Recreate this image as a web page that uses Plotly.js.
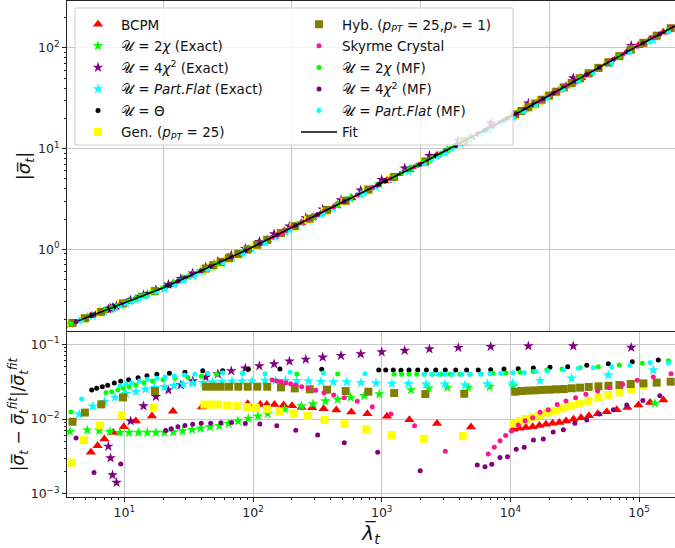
<!DOCTYPE html>
<html><head><meta charset="utf-8">
<script src="https://cdn.plot.ly/plotly-3.0.1.min.js"></script>
<style>html,body{margin:0;padding:0;background:#fff;}#chart{width:675px;height:548px;}</style>
</head><body><div id="chart"></div>
<script>
// ---------- data ----------
const lam_fit = [4.4, 20.6, 91.8, 374, 2046, 12600, 90200, 184600, 200000];
const sig_fit = [0.195, 0.42, 1.0, 2.46, 7.15, 24.2, 99, 162, 171];

const lam_bcpm = [5.5,6.2,7.0,8.2,9.9,12.3,16.4,23.9,40.2,91,114,128,147,173,201,238,288,354,444,581,774,1100,1640,2690,4940,10550,11700,13200,14900,16800,18900,21300,24000,27100,30900,35400,40800,47700,56100,67000,81100,98800,121700,154500];
const sig_bcpm = [0.2185,0.232,0.246,0.266,0.292,0.325,0.375,0.457,0.619,0.995,1.148,1.236,1.349,1.5,1.649,1.839,2.075,2.368,2.732,3.236,3.88,4.83,6.22,8.585,12.9,21.43,22.96,24.97,27.21,29.65,32.27,35.16,38.3,41.8,45.9,50.67,56.1,62.8,70.5,80.1,91.8,105.6,121.7,143.5];
const res_bcpm = [0.0036,0.0044,0.0054,0.0066,0.0079,0.0094,0.011,0.0127,0.0145,0.016,0.0157,0.0157,0.0157,0.0154,0.0151,0.0143,0.0142,0.0137,0.0132,0.0124,0.0118,0.0109,0.0098,0.0087,0.0078,0.0073,0.0075,0.0077,0.0079,0.0082,0.0085,0.0088,0.009,0.0094,0.0099,0.0104,0.0111,0.0118,0.0125,0.0133,0.0143,0.0154,0.0167,0.018];

const lam_x2ex = [3.79,5.15,6.39,7.74,9.25,10.9,12.9,15.1,17.6,20.5,24.0,28.4,33.6,39.2,46.3,54.7,64.7,76.4,92,109,130,176,238,293,365,455,574,733,960,1690,2320,3240,4690,6900,10550,133000];
const sig_x2ex = [0.1815,0.2114,0.2353,0.2587,0.2825,0.3069,0.3332,0.36,0.3886,0.4184,0.4591,0.5055,0.5574,0.6097,0.6722,0.7401,0.8164,0.8987,1.0,1.118,1.249,1.516,1.839,2.096,2.414,2.777,3.214,3.747,4.439,6.339,7.768,9.712,12.45,16.13,21.43,129.5];
const res_x2ex = [0.0068,0.0071,0.007,0.0068,0.0066,0.0066,0.0066,0.0066,0.0066,0.0066,0.0067,0.0069,0.0072,0.0075,0.0078,0.0081,0.0087,0.0094,0.0101,0.0109,0.0118,0.0136,0.0149,0.0159,0.0174,0.0183,0.0195,0.0205,0.0216,0.0245,0.0258,0.0265,0.0265,0.027,0.0277,0.0162];

const lam_x4ex = [7.52,7.82,8.1,8.7,11.2,14.1,17.6,22.0,27.5,34.0,42.9,53.4,67.8,87.1,112,146,192,257,348,483,687,1000,1510,2350,3940,7030,13800,30800,86900];
const sig_x4ex = [0.2548,0.2599,0.2643,0.2738,0.3137,0.3527,0.3963,0.4465,0.5102,0.5793,0.6657,0.7594,0.8753,1.0163,1.193,1.422,1.693,2.052,2.501,3.086,3.863,4.916,6.394,8.516,12.07,17.85,28.16,50.24,105.3];
const res_x4ex = [0.0043,0.003,0.00178,0.00141,0.0094,0.0149,0.0199,0.0244,0.0285,0.0323,0.0362,0.04,0.044,0.0478,0.0513,0.0545,0.0592,0.0629,0.067,0.0704,0.0741,0.0788,0.0826,0.0865,0.0901,0.093,0.095,0.095,0.0906];

const lam_pfex = [4.45,5.68,7.0,8.47,10.3,12.3,14.6,17.2,20.5,24.3,28.7,34.0,41.1,48.6,57.4,68.7,82.2,98.2,124,150,179,219,269,337,421,535,690,903,1200,1610,2210,3100,4440,6620,10400,17000,29900,57700,129000];
const sig_pfex = [0.1943,0.2185,0.2418,0.2651,0.2908,0.3175,0.3447,0.3742,0.4071,0.4493,0.4941,0.5444,0.6076,0.67,0.7367,0.8182,0.908,1.01,1.171,1.323,1.484,1.684,1.924,2.223,2.561,2.978,3.497,4.147,4.947,5.966,7.299,9.171,11.66,15.23,20.53,28.91,43.33,69.1,120.9];
const res_pfex = [0.0116,0.0148,0.0171,0.0195,0.0218,0.0232,0.025,0.0262,0.027,0.0279,0.0292,0.0301,0.0306,0.0313,0.0316,0.032,0.032,0.0323,0.0328,0.0327,0.0326,0.0326,0.0323,0.0316,0.0313,0.0313,0.0306,0.0303,0.0297,0.0297,0.0292,0.0292,0.0285,0.0294,0.0301,0.0326,0.0351,0.0388,0.0453];

const lam_theta = [5.58,6.1,6.75,7.43,8.36,9.38,10.8,12.8,15.0,17.9,22.4,29.6,40.7,58.2,92,162,342,948,1074,1231,1413,1630,1905,2223,2630,3120,3760,4570,5630,7030,8920,11500,15070,20300,27900,39200,57700,88500,141000];
const sig_theta = [0.22,0.23,0.2415,0.2535,0.2685,0.284,0.305,0.331,0.359,0.391,0.441,0.519,0.623,0.767,1.0,1.439,2.317,4.406,4.764,5.19,5.66,6.19,6.84,7.55,8.45,9.475,10.74,12.25,14.09,16.33,19.14,22.73,27.42,34.0,42.66,54.45,71.9,97.7,134.8];
const res_theta = [0.0245,0.0258,0.0271,0.0283,0.0303,0.032,0.0336,0.0357,0.038,0.0397,0.0409,0.0422,0.0443,0.0443,0.0463,0.0467,0.0463,0.0453,0.0452,0.0453,0.0451,0.0453,0.0452,0.0453,0.0452,0.0453,0.0452,0.0453,0.0453,0.0457,0.0467,0.0472,0.0482,0.0492,0.0501,0.0524,0.055,0.0585,0.0616];

const lam_gen = [3.92,4.86,6.47,9.53,16.9,41.9,46.9,53.8,63.2,74.7,89.8,105,128,160,206,267,360,513,760,1200,2130,4270,10550,11900,13200,14900,17000,19400,22300,25500,29500,34400,40400,48300,57800,70300,86700,108000];
const sig_gen = [0.1846,0.2055,0.2367,0.2866,0.3807,0.634,0.677,0.733,0.805,0.887,0.986,1.092,1.234,1.428,1.674,1.979,2.397,2.994,3.835,5.116,7.345,11.68,21.43,23.23,25.0,27.25,29.94,32.9,36.27,40.07,44.4,49.57,55.67,63.33,72.06,82.9,96.4,112.3];
const res_gen = [0.0026,0.0052,0.0082,0.0113,0.0143,0.0156,0.0156,0.0156,0.0152,0.0149,0.0145,0.0142,0.0136,0.0125,0.0119,0.011,0.0097,0.0086,0.0073,0.0061,0.00545,0.0059,0.00866,0.0094,0.01,0.0106,0.0113,0.0122,0.0129,0.0139,0.0149,0.016,0.0174,0.0193,0.021,0.0228,0.025,0.0285];

const lam_hyb = [3.96,4.94,6.62,9.77,17.3,43.2,49.2,56.1,65.1,76.9,91,108,129,165,211,276,376,525,788,1250,2185,4380,10900,12200,13800,15600,17500,20000,22700,26000,30000,34800,40600,48300,57800,70300,86100,108000,137000,176000];
const sig_hyb = [0.1857,0.207,0.2394,0.2903,0.385,0.645,0.696,0.751,0.8185,0.902,0.995,1.11,1.243,1.455,1.701,2.018,2.46,3.038,3.92,5.236,7.46,11.91,21.87,23.69,25.76,28.07,30.6,33.62,36.76,40.6,44.98,49.98,55.94,63.33,72.06,82.9,95.9,112.3,132.2,157.1];
const res_hyb = [0.0092,0.0122,0.0157,0.0195,0.0237,0.0271,0.0271,0.0271,0.0271,0.0271,0.0271,0.0271,0.0271,0.0265,0.0257,0.025,0.0247,0.0237,0.0232,0.0223,0.0216,0.0218,0.0232,0.0237,0.024,0.0242,0.0245,0.0247,0.025,0.0252,0.0258,0.0263,0.0269,0.0274,0.0279,0.0285,0.0294,0.03,0.0307,0.0316];

const lam_sky = [141,153,165,180,196,215,239,269,307,356,424,512,646,845,1180,1800,3120,6730,7500,8300,9190,10200,11500,13000,14900,17000,19700,23100,27000,32100,38600,47600,58600,74600,96800,129000,177000];
const sig_sky = [1.317,1.384,1.455,1.535,1.625,1.721,1.842,1.988,2.162,2.379,2.655,2.989,3.461,4.1,5.056,6.6,9.475,15.86,17.06,18.26,19.54,21.01,22.73,24.64,27.21,29.9,33.29,37.31,41.76,47.26,53.95,62.71,72.78,86.55,104.1,126.6,157.6];
const res_sky = [0.0333,0.0323,0.0316,0.0306,0.0297,0.0285,0.027,0.0258,0.0242,0.0225,0.0209,0.0193,0.0173,0.0146,0.0117,0.0081,0.0037,0.0034,0.0042,0.0051,0.006,0.0069,0.0083,0.0095,0.0104,0.0123,0.0133,0.0157,0.0174,0.0193,0.0214,0.0237,0.0265,0.0292,0.033,0.0365,0.0404];

const lam_x2mf = [3.85,7.21,7.98,8.89,9.82,10.9,12.3,14.2,16.6,20.0,24.8,31.1,39.7,52.2,83.2,219,455,1250,1430,1630,1870,2140,2470,2890,3400,4060,4850,5910,7280,9240,11900,15000,19200,25200,34800,48200,70100,106000,169000];
const sig_x2mf = [0.1831,0.2497,0.2625,0.277,0.2909,0.3069,0.3257,0.3495,0.3776,0.4136,0.4672,0.5333,0.6138,0.7206,0.9443,1.741,2.777,5.25,5.702,6.19,6.756,7.37,8.107,9.006,10.03,11.3,12.74,14.55,16.72,19.63,23.23,27.35,32.58,39.67,49.98,63.23,82.77,110.7,152.5];
const res_x2mf = [0.0124,0.0225,0.0232,0.0244,0.0258,0.027,0.0285,0.0306,0.0323,0.0336,0.0351,0.0362,0.0373,0.0397,0.0409,0.04,0.04,0.0397,0.0397,0.0397,0.0397,0.0397,0.0397,0.0397,0.0397,0.0397,0.0397,0.04,0.0409,0.0413,0.0422,0.0432,0.0453,0.0467,0.0486,0.0501,0.0528,0.0557,0.0603];

const lam_x4mf = [4.22,5.82,9.38,21.0,23.1,26.1,29.6,34.0,39.6,46.9,56.4,68.2,87.1,113,153,215,318,512,931,1990,5530,6350,7160,8300,9500,11100,12800,15100,18000,21500,25800,31700,39200,49100,63100,80200,107000,145000];
const sig_x4mf = [0.1915,0.2246,0.284,0.4242,0.4482,0.4817,0.519,0.5612,0.6138,0.677,0.7531,0.8416,0.9698,1.143,1.384,1.721,2.214,2.989,4.357,7.015,13.91,15.26,16.54,18.26,20.0,22.13,24.36,27.42,31.2,35.45,40.33,46.88,54.45,64.07,76.74,91.1,111.2,137.5];
const res_x4mf = [0.00557,0.00193,0.0025,0.007,0.0074,0.0079,0.0082,0.0085,0.0088,0.0088,0.0089,0.009,0.0087,0.0086,0.0081,0.0071,0.0061,0.0048,0.0036,0.00203,0.00242,0.0023,0.00248,0.00306,0.00313,0.00393,0.00418,0.00523,0.0054,0.0067,0.0072,0.0088,0.0097,0.0117,0.0133,0.0154,0.0177,0.0205];

const lam_pfmf = [4.67,9.27,10.3,11.4,13.1,15.1,17.9,20.7,24.5,29.3,35.4,44.5,58.2,83.2,124,194,352,741,2140,2440,2750,3100,3540,4190,4850,5870,6950,8410,10500,12800,15800,19500,25800,33700,44100,61200,84900,122000,169000];
const sig_pfmf = [0.1975,0.2749,0.2886,0.3039,0.3247,0.3478,0.3773,0.4057,0.4465,0.4942,0.5517,0.6295,0.7348,0.9057,1.163,1.545,2.261,3.623,7.075,7.724,8.369,9.069,9.9,11.08,12.23,13.91,15.56,17.67,20.53,23.34,27.19,31.56,38.52,46.58,56.39,71.33,90.0,114.8,144.0];
const res_pfmf = [0.0185,0.0279,0.0294,0.0306,0.0323,0.034,0.0351,0.0365,0.0376,0.0388,0.0397,0.0409,0.0417,0.0409,0.0404,0.0422,0.0413,0.0404,0.0397,0.0397,0.0397,0.0397,0.0397,0.0397,0.0397,0.0397,0.0404,0.0409,0.0417,0.0417,0.0432,0.044,0.0453,0.0477,0.0486,0.0501,0.0523,0.057,0.0562];

// tick labels
const xTickVals = [10, 100, 1000, 10000, 100000];
const xTickText = ['10<sup>1</sup>','10<sup>2</sup>','10<sup>3</sup>','10<sup>4</sup>','10<sup>5</sup>'];
const yTopTickVals = [1, 10, 100];
const yTopTickText = ['10<sup>0</sup>','10<sup>1</sup>','10<sup>2</sup>'];
const yBotTickVals = [0.001, 0.01, 0.1];
const yBotTickText = ['10<sup>\u22123</sup>','10<sup>\u22122</sup>','10<sup>\u22121</sup>'];
const topGridVals = [20, 200, 2000, 20000];

// ---------- build ----------
const U = '\u{1D4B0}';
const FONT = 'DejaVu Sans, Liberation Sans, sans-serif';
const specs = [
  {name:'BCPM', lam:lam_bcpm, sig:sig_bcpm, res:res_bcpm, sym:'triangle-up', col:'#ff0000', size:9, lg:'legend'},
  {name:U+' = 2<i>\u03c7</i> (Exact)', lam:lam_x2ex, sig:sig_x2ex, res:res_x2ex, sym:'star', col:'#00ff00', size:8, lg:'legend'},
  {name:U+' = 4<i>\u03c7</i><sup>2</sup> (Exact)', lam:lam_x4ex, sig:sig_x4ex, res:res_x4ex, sym:'star', col:'#800080', size:8, lg:'legend'},
  {name:U+' = <i>Part.Flat</i> (Exact)', lam:lam_pfex, sig:sig_pfex, res:res_pfex, sym:'star', col:'#00ffff', size:8, lg:'legend'},
  {name:U+' = \u0398', lam:lam_theta, sig:sig_theta, res:res_theta, sym:'circle', col:'#000000', size:5, lg:'legend'},
  {name:'Gen. (<i>p</i><sub><i>PT</i></sub> = 25)', lam:lam_gen, sig:sig_gen, res:res_gen, sym:'square', col:'#ffff00', size:8, lg:'legend'},
  {name:'Hyb. (<i>p</i><sub><i>PT</i></sub> = 25,<i>p</i><sub>*</sub> = 1)', lam:lam_hyb, sig:sig_hyb, res:res_hyb, sym:'square', col:'#808000', size:8, lg:'legend2'},
  {name:'Skyrme Crystal', lam:lam_sky, sig:sig_sky, res:res_sky, sym:'circle', col:'#ff1493', size:5, lg:'legend2'},
  {name:U+' = 2<i>\u03c7</i> (MF)', lam:lam_x2mf, sig:sig_x2mf, res:res_x2mf, sym:'circle', col:'#00ff00', size:5, lg:'legend2'},
  {name:U+' = 4<i>\u03c7</i><sup>2</sup> (MF)', lam:lam_x4mf, sig:sig_x4mf, res:res_x4mf, sym:'circle', col:'#800080', size:5, lg:'legend2'},
  {name:U+' = <i>Part.Flat</i> (MF)', lam:lam_pfmf, sig:sig_pfmf, res:res_pfmf, sym:'circle', col:'#00ffff', size:5, lg:'legend2'}
];

const traces = [];
specs.forEach((s, i) => {
  traces.push({x:s.lam, y:s.sig, xaxis:'x', yaxis:'y', type:'scatter', mode:'markers', name:s.name,
    legend:s.lg, legendgroup:'g'+i, marker:{symbol:s.sym, color:s.col, size:s.size, line:{width:0}}});
});
traces.push({x:lam_fit, y:sig_fit, xaxis:'x', yaxis:'y', type:'scatter', mode:'lines', name:'Fit',
  legend:'legend2', legendgroup:'gfit', line:{color:'#000000', width:1.6}});
specs.forEach((s, i) => {
  traces.push({x:s.lam, y:s.res, xaxis:'x2', yaxis:'y2', type:'scatter', mode:'markers', name:s.name,
    showlegend:false, legendgroup:'g'+i, marker:{symbol:s.sym, color:s.col, size:s.size, line:{width:0}}});
});

function minorVals(lo, hi) {
  const v = [];
  for (let e = lo; e <= hi; e++) for (let m = 2; m <= 9; m++) v.push(m * Math.pow(10, e));
  return v;
}

const axisCommon = {type:'log', showline:true, linecolor:'#222', linewidth:1, mirror:true, zeroline:false,
  gridcolor:'#c6c6c6', gridwidth:1, tickfont:{family:FONT, size:12.5, color:'#222'}, tickcolor:'#222'};

const W = 675, H = 548, L = 67, R = 0, T = 1, B = 51;
const pw = W - L - R, ph = H - T - B;
const yPx = py => (H - B - py) / ph;
const xPx = px => (px - L) / pw;

const legendCommon = {xanchor:'left', yanchor:'top', bgcolor:'rgba(0,0,0,0)', borderwidth:0,
  font:{family:FONT, size:13.5, color:'#111'}, tracegroupgap:1, itemwidth:36};

const layout = {
  width: W, height: H, margin:{l:L, r:R, t:T, b:B}, paper_bgcolor:'#fff', plot_bgcolor:'#fff',
  font:{family:FONT, color:'#111'}, showlegend:true,
  xaxis: Object.assign({}, axisCommon, {range:[0.5548, 5.279], anchor:'y', domain:[0,1],
    tickmode:'array', tickvals:topGridVals, showticklabels:false, ticks:'', showgrid:true}),
  yaxis: Object.assign({}, axisCommon, {range:[-0.811, 2.466], anchor:'x', domain:[yPx(331), 1],
    tickmode:'array', tickvals:yTopTickVals, ticktext:yTopTickText, ticks:'outside', ticklen:4,
    minor:{tickmode:'array', tickvals:minorVals(-1,2), ticks:'outside', ticklen:2, showgrid:false, tickcolor:'#222'},
    title:{text:'|<i>\u03c3\u0305</i><sub><i>t</i></sub>|', font:{family:FONT, size:18, color:'#111'}, standoff:2}}),
  xaxis2: Object.assign({}, axisCommon, {range:[0.5548, 5.279], anchor:'y2', domain:[0,1],
    tickmode:'array', tickvals:xTickVals, ticktext:xTickText, ticks:'outside', ticklen:4, showgrid:true,
    minor:{tickmode:'array', tickvals:minorVals(0,5), ticks:'outside', ticklen:2, showgrid:false, tickcolor:'#222'},
    title:{text:'<i>\u03bb\u0305</i><sub><i>t</i></sub>', font:{family:FONT, size:20, color:'#111'}, standoff:0}}),
  yaxis2: Object.assign({}, axisCommon, {range:[-3.044, -0.835], anchor:'x2', domain:[0, yPx(332)],
    tickmode:'array', tickvals:yBotTickVals, ticktext:yBotTickText, ticks:'outside', ticklen:4, showgrid:true,
    minor:{tickmode:'array', tickvals:minorVals(-4,-1), ticks:'outside', ticklen:2, showgrid:false, tickcolor:'#222'},
    title:{text:'|<i>\u03c3\u0305<sub>t</sub></i> \u2212 <i>\u03c3\u0305<sub>t</sub><sup>fit</sup></i>|/<i>\u03c3\u0305<sub>t</sub><sup>fit</sup></i>',
      font:{family:FONT, size:17, color:'#111'}, standoff:0}}),
  legend: Object.assign({}, legendCommon, {x:xPx(75), y:yPx(9)}),
  legend2: Object.assign({}, legendCommon, {x:xPx(296), y:yPx(9)}),
  shapes: [{type:'rect', xref:'paper', yref:'paper', x0:xPx(75), x1:xPx(513), y0:yPx(145), y1:yPx(8),
    fillcolor:'rgba(255,255,255,0.8)', line:{color:'#cccccc', width:1}, layer:'above'}]
};

Plotly.newPlot('chart', traces, layout, {staticPlot:true, displayModeBar:false});
</script></body></html>
